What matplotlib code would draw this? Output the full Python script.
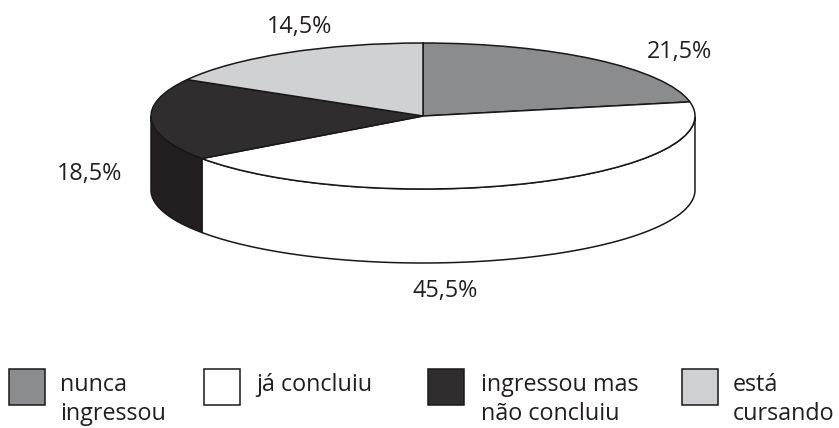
import numpy as np
import matplotlib
matplotlib.use('Agg')
import matplotlib.pyplot as plt
from matplotlib.patches import Rectangle

plt.rcParams['font.family'] = ['Open Sans', 'DejaVu Sans']

# printed labels, clockwise from the top of the pie
share_labels = ['21,5%', '45,5%', '18,5%', '14,5%']
# the slices in the picture are not drawn quite to the printed numbers, so these are read off the drawing
drawn_shares = [21.9, 43.2, 18.2, 16.7]
legend_labels = ['nunca\ningressou', 'já concluiu', 'ingressou mas\nnão concluiu', 'está\ncursando']
colors = ['#8a8c8e', '#ffffff', '#2f2d2e', '#d0d1d3']
wall_colors = ['#8a8c8e', '#ffffff', '#231f20', '#d0d1d3']
edge = '#1a1718'
lw = 1.1

W, H = 839, 428
fig = plt.figure(figsize=(W / 100, H / 100), dpi=100)

# overlay in pixels for the labels and legend
bg = fig.add_axes([0, 0, 1, 1])
bg.set_xlim(0, W)
bg.set_ylim(H, 0)
bg.axis('off')

# pie axes, stretched so the circle becomes the ellipse
cx, cy, rx, ry, depth = 423, 116, 272, 73, 74
pie_ax = fig.add_axes([(cx - rx) / W, 1 - (cy + ry) / H, 2 * rx / W, 2 * ry / H])
pie_ax.patch.set_alpha(0)
pie_ax.axis('off')

# side wall first
ends = 90 - np.cumsum(drawn_shares) * 3.6
starts = np.r_[90, ends[:-1]]
d = depth / ry
for a0, a1, col in zip(starts, ends, wall_colors):
    # only the front half of the rim shows
    lo, hi = a1 % 360, a0 % 360
    if hi < lo:
        hi += 360
    t = np.radians(np.linspace(lo, hi, 200))
    t = t[np.sin(t) <= 0.0]
    if len(t) == 0:
        continue
    xs = np.r_[np.cos(t), np.cos(t)[::-1]]
    ys = np.r_[np.sin(t), np.sin(t)[::-1] - d]
    pie_ax.fill(xs, ys, facecolor=col, edgecolor=edge, linewidth=lw, clip_on=False, zorder=1)

wedges, _ = pie_ax.pie(drawn_shares, colors=colors, startangle=90, counterclock=False, radius=1,
                       wedgeprops=dict(edgecolor=edge, linewidth=lw, zorder=2))
for w in wedges:
    w.set_clip_on(False)
pie_ax.set_aspect('auto')
pie_ax.set_xlim(-1, 1)
pie_ax.set_ylim(-1, 1)

fs = 16.8
label_pos = [(679, 52), (445, 291), (90, 174), (300, 27)]
for txt, (x, y) in zip(share_labels, label_pos):
    bg.text(x, y, txt, ha='center', va='center', fontsize=fs, color='#231f20')

box_x = [9, 204, 428, 682]
text_x = [60, 256, 481, 733]
for bx, tx, lab, col in zip(box_x, text_x, legend_labels, colors):
    bg.add_patch(Rectangle((bx, 368.5), 36, 36, facecolor=col, edgecolor=edge, linewidth=lw))
    bg.text(tx, 373, lab, ha='left', va='top', fontsize=fs, color='#231f20', linespacing=1.25)

fig.savefig('out.png', dpi=100)
